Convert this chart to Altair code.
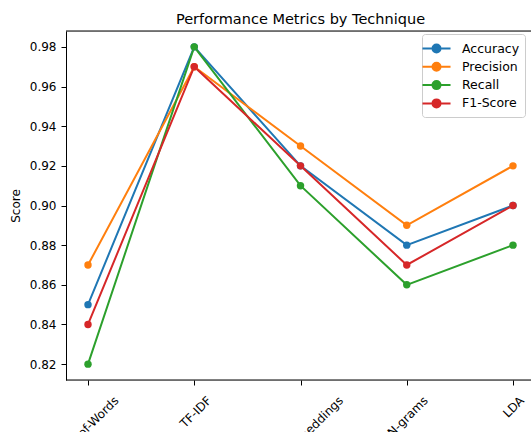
import altair as alt
import pandas as pd

# ---- data ----
techniques = ["Bag-of-Words", "TF-IDF", "Word Embeddings", "N-grams", "LDA"]
metrics = ["Accuracy", "Precision", "Recall", "F1-Score"]
accuracy = [0.85, 0.98, 0.92, 0.88, 0.90]
precision = [0.87, 0.97, 0.93, 0.89, 0.92]
recall = [0.82, 0.98, 0.91, 0.86, 0.88]
f1_score = [0.84, 0.97, 0.92, 0.87, 0.90]
y_ticks = [0.82, 0.84, 0.86, 0.88, 0.90, 0.92, 0.94, 0.96, 0.98]

colors = ["#1f77b4", "#ff7f0e", "#2ca02c", "#d62728"]
FONT = "DejaVu Sans"

rows = []
for m, vals in zip(metrics, [accuracy, precision, recall, f1_score]):
    for t, v in zip(techniques, vals):
        rows.append({"Technique": t, "Metric": m, "Score": v})
df = pd.DataFrame(rows)

W, H = 465, 349

# horizontal shift of each rotated label (matplotlib centres the rotated box on the tick)
label_shift = {"Bag-of-Words": 28, "TF-IDF": 14.5, "Word Embeddings": 40,
               "N-grams": 18.5, "LDA": 8.5}
label_offset = {
    "condition": [{"test": f"datum.value === '{k}'", "value": v} for k, v in label_shift.items()],
    "value": 0,
}

x_enc = alt.X(
    "Technique:N",
    sort=techniques,
    scale=alt.Scale(type="point", domain=techniques, range=[22, 447], padding=0),
    axis=alt.Axis(
        title=None, labelAngle=-45, labelAlign="right", labelBaseline="middle",
        labelOffset=label_offset, labelPadding=13, tickSize=5, domain=False,
        tickColor="black", labelColor="black", labelFont=FONT, labelFontSize=12,
        grid=False,
    ),
)
y_enc = alt.Y(
    "Score:Q",
    scale=alt.Scale(domain=[0.812, 0.988], nice=False, zero=False),
    axis=alt.Axis(
        title="Score", values=y_ticks, format=".2f", grid=False, tickSize=5,
        labelPadding=5, domain=True, domainColor="black", tickColor="black",
        labelColor="black", labelFont=FONT, labelFontSize=12,
        titleFont=FONT, titleFontSize=12, titleFontWeight="normal",
        titleColor="black", titlePadding=7,
    ),
)

sym = "M-1.65,0L1.65,0M-0.47,0A0.47,0.47,0,1,1,0.47,0A0.47,0.47,0,1,1,-0.47,0Z"
color_enc = alt.Color(
    "Metric:N",
    sort=metrics,
    scale=alt.Scale(domain=metrics, range=colors),
    legend=alt.Legend(
        title=None, orient="none", legendX=356, legendY=3,
        symbolType=sym, symbolSize=289, symbolStrokeWidth=2,
        labelFont=FONT, labelFontSize=12.5, labelColor="black", labelOffset=16,
        fillColor="white", strokeColor="#cccccc", cornerRadius=3,
        padding=5, rowPadding=0.3,
    ),
)

lines = alt.Chart(df).mark_line(strokeWidth=2).encode(x=x_enc, y=y_enc, color=color_enc)
points = alt.Chart(df).mark_circle(size=55, opacity=1).encode(x=x_enc, y=y_enc, color=color_enc)

frame_df = pd.DataFrame({"k": [0]})
top_rule = alt.Chart(frame_df).mark_rule(color="black", strokeWidth=1).encode(
    x=alt.value(0), x2=alt.value(W), y=alt.value(0))
bottom_rule = alt.Chart(frame_df).mark_rule(color="black", strokeWidth=1).encode(
    x=alt.value(0), x2=alt.value(W), y=alt.value(H))

chart = alt.layer(lines, points, top_rule, bottom_rule).properties(
    width=W,
    height=H,
    title=alt.Title(
        "Performance Metrics by Technique", font=FONT, fontSize=14.5,
        fontWeight="normal", color="black", anchor="middle", frame="group",
        offset=9, baseline="alphabetic", dx=2, dy=17,
    ),
    autosize=alt.AutoSizeParams(type="none"),
    padding={"left": 66, "top": 31, "right": 0, "bottom": 52},
    background="white",
).configure_view(stroke=None).configure(font=FONT)

chart.save("out.html", embed_options={"renderer": "svg", "actions": False})
